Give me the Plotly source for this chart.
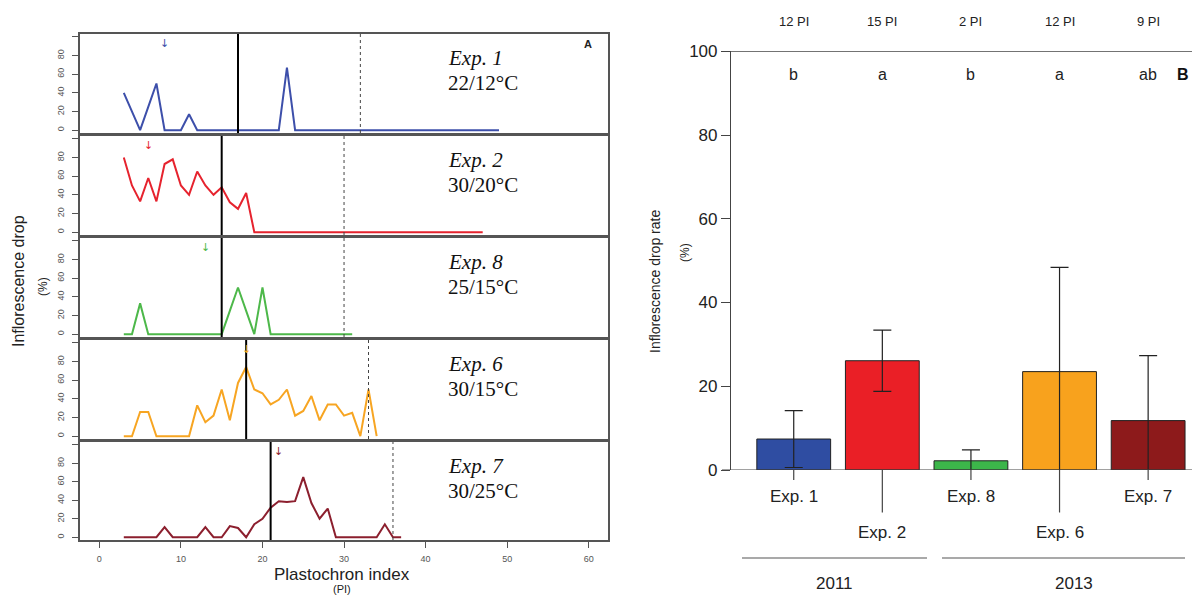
import plotly.graph_objects as go

W, H = 1192, 595

# ---------------- Panel A: inflorescence drop along the plastochron index ----------------
exp_names = ["Exp. 1", "Exp. 2", "Exp. 8", "Exp. 6", "Exp. 7"]
exp_temps = ["22/12°C", "30/20°C", "25/15°C", "30/15°C", "30/25°C"]
line_colors = ["#3D4FAA", "#E6232E", "#4DB84A", "#F7A522", "#8C1F2E"]

# first plastochron index of each series
pi_start = [3, 3, 3, 3, 3]

drop_exp1 = [40, 20, 0, 25, 50, 0, 0, 0, 17, 0,
             0, 0, 0, 0, 0, 0, 0, 0, 0, 0,
             67, 0, 0, 0, 0, 0, 0, 0, 0, 0,
             0, 0, 0, 0, 0, 0, 0, 0, 0, 0,
             0, 0, 0, 0, 0, 0, 0]
drop_exp2 = [80, 50, 33, 58, 33, 73, 78, 50, 40, 65,
             50, 40, 48, 32, 25, 42, 0, 0, 0, 0,
             0, 0, 0, 0, 0, 0, 0, 0, 0, 0,
             0, 0, 0, 0, 0, 0, 0, 0, 0, 0,
             0, 0, 0, 0, 0]
drop_exp8 = [0, 0, 33, 0, 0, 0, 0, 0, 0, 0,
             0, 0, 0, 25, 50, 25, 0, 50, 0, 0,
             0, 0, 0, 0, 0, 0, 0, 0, 0]
drop_exp6 = [0, 0, 26, 26, 0, 0, 0, 0, 0, 33,
             15, 22, 50, 17, 57, 74, 50, 46, 34, 39,
             50, 22, 27, 43, 17, 34, 34, 22, 25, 0,
             50, 0]
drop_exp7 = [0, 0, 0, 0, 0, 11, 0, 0, 0, 0,
             11, 0, 0, 12, 10, 0, 14, 20, 32, 39,
             38, 39, 65, 37, 20, 31, 0, 0, 0, 0,
             0, 0, 14, 0, 0]
drop_series = [drop_exp1, drop_exp2, drop_exp8, drop_exp6, drop_exp7]

solid_pi = [17, 15, 15, 18, 21]      # solid reference line
dotted_pi = [32, 30, 30, 33, 36]     # dotted reference line
arrow_pi = [8, 6, 13, 18, 22]        # arrow marker

x_ticks_a = [0, 10, 20, 30, 40, 50, 60]
y_ticks_a = [0, 20, 40, 60, 80, 100]
y_ticktext_a = ["0", "20", "40", "60", "80", ""]

# ---------------- Panel B: mean inflorescence drop rate ----------------
rate_mean = [7.4, 26.1, 2.2, 23.5, 11.8]
rate_sd = [6.8, 7.3, 2.6, 24.9, 15.5]
bar_colors = ["#2F4DA2", "#EA1F26", "#3CB64A", "#F8A21D", "#8D1A1B"]
pi_labels = ["12 PI", "15 PI", "2 PI", "12 PI", "9 PI"]
sig_letters = ["b", "a", "b", "a", "ab"]
label_row = [0, 1, 0, 1, 0]
years = ["2011", "2013"]
y_ticks_b = [0, 20, 40, 60, 80, 100]

# panel pixel boxes (top, bottom) for the five stacked plots
panel_tops = [34, 136, 238, 340, 442]
panel_bots = [133, 235, 337, 439, 540]
left_x0, left_x1 = 80, 608

fig = go.Figure()
layout = dict(
    template="none",
    width=W, height=H, autosize=False,
    margin=dict(l=0, r=0, t=0, b=0, pad=0),
    paper_bgcolor="white", plot_bgcolor="white",
    showlegend=False,
    font=dict(family="Liberation Sans, Arial, sans-serif", color="#222"),
)
shapes = []
annotations = []


def label(x, y, text, size, xref="paper", yref="paper", angle=0,
          family=None, color="#222", xanchor="center"):
    font = dict(size=size, color=color)
    if family:
        font["family"] = family
    annotations.append(dict(xref=xref, yref=yref, x=x, y=y, text=text,
                            textangle=angle, showarrow=False,
                            xanchor=xanchor, yanchor="middle", font=font))


frame_col = "#555555"
serif = "Liberation Serif, Times New Roman, serif"


def ax_id(letter, k):
    return letter if k == 1 else f"{letter}{k}"


for i in range(5):
    k = i + 1
    xa, ya = ax_id("x", k), ax_id("y", k)
    xkey = "xaxis" if k == 1 else f"xaxis{k}"
    ykey = "yaxis" if k == 1 else f"yaxis{k}"
    xs = list(range(pi_start[i], pi_start[i] + len(drop_series[i])))
    fig.add_trace(go.Scatter(
        x=xs, y=drop_series[i], mode="lines",
        line=dict(color=line_colors[i], width=2),
        xaxis=xa, yaxis=ya, hoverinfo="skip",
    ))
    is_bottom = (k == 5)
    layout[xkey] = dict(
        domain=[left_x0 / W, left_x1 / W], range=[-2.37, 62.36],
        anchor=ya, automargin=False,
        showline=True, mirror=True, linecolor=frame_col, linewidth=1.5,
        showgrid=False, zeroline=False,
        tickvals=x_ticks_a if is_bottom else [],
        ticks="outside" if is_bottom else "", ticklen=6, tickcolor=frame_col,
        showticklabels=is_bottom, ticklabelstandoff=3,
        tickfont=dict(size=9, color="#555"),
    )
    layout[ykey] = dict(
        domain=[1 - panel_bots[i] / H, 1 - panel_tops[i] / H], range=[-3, 103],
        anchor=xa, automargin=False,
        showline=True, mirror=True, linecolor=frame_col, linewidth=1.5,
        showgrid=False, zeroline=False,
        tickvals=y_ticks_a, ticktext=y_ticktext_a, tickangle=-90,
        ticks="outside", ticklen=6, tickcolor=frame_col, ticklabelstandoff=5,
        tickfont=dict(size=9, color="#555"),
    )
    # reference lines
    shapes.append(dict(type="line", xref=xa, yref=f"{ya} domain",
                       x0=solid_pi[i], x1=solid_pi[i], y0=0, y1=1,
                       line=dict(color="black", width=2)))
    shapes.append(dict(type="line", xref=xa, yref=f"{ya} domain",
                       x0=dotted_pi[i], x1=dotted_pi[i], y0=0, y1=1,
                       line=dict(color="#444", width=1, dash="dot")))
    # arrow marker
    label(arrow_pi[i], 93, "↓", 11, xref=xa, yref=ya,
          family="DejaVu Sans", color=line_colors[i])
    # experiment name and temperature regime
    label(446 / W, 1 - (panel_tops[i] + 24) / H, f"<i>{exp_names[i]}</i>", 21,
          family=serif, color="#111", xanchor="left")
    label(446 / W, 1 - (panel_tops[i] + 49) / H, exp_temps[i], 21,
          family=serif, color="#111", xanchor="left")

label(588 / W, 1 - 44 / H, "<b>A</b>", 11)
label(342 / W, 1 - 574 / H, "Plastochron index", 17)
label(342 / W, 1 - 588.5 / H, "(PI)", 11)
label(18 / W, 1 - 281 / H, "Inflorescence drop", 16, angle=-90)
label(43 / W, 1 - 287 / H, "(%)", 12, angle=-90)

# ---------------- Panel B ----------------
fig.add_trace(go.Bar(
    x=exp_names, y=rate_mean,
    marker=dict(color=bar_colors, line=dict(color="#222", width=1)),
    error_y=dict(type="data", array=rate_sd, visible=True,
                 color="#222", thickness=1.2, width=9),
    xaxis="x6", yaxis="y6", hoverinfo="skip",
))

b_x0 = 731
layout["xaxis6"] = dict(
    domain=[b_x0 / W, 1], type="category", range=[-0.708, 4.495],
    anchor="y6", automargin=False, showline=False, showgrid=False, zeroline=False,
    ticks="", showticklabels=False,
)
layout["yaxis6"] = dict(
    domain=[1 - 470 / H, 1 - 51.3 / H], range=[0, 100], anchor="x6", automargin=False,
    showline=True, linecolor="#444", linewidth=1.2, showgrid=False, zeroline=False,
    tickvals=y_ticks_b, ticks="outside", ticklen=9, tickcolor="#444",
    tickfont=dict(size=17, color="#222"),
)
layout["bargap"] = 0.167

# horizontal lines at 0 and 100
for yv in (0, 100):
    shapes.append(dict(type="line", xref="paper", yref="y6",
                       x0=722 / W, x1=1, y0=yv, y1=yv,
                       line=dict(color="#444", width=1.2)))

for i, name in enumerate(exp_names):
    tick_end = 480 if label_row[i] == 0 else 512.5
    shapes.append(dict(type="line", xref="x6", yref="paper",
                       x0=name, x1=name, y0=1 - 470 / H, y1=1 - tick_end / H,
                       line=dict(color="#444", width=1.2)))
    label(name, 1 - (496.5 if label_row[i] == 0 else 532.5) / H, name, 17, xref="x6")
    label(name, 1 - 22 / H, pi_labels[i], 13, xref="x6")
    label(name, 1 - 74 / H, sig_letters[i], 16, xref="x6")

label(1183 / W, 1 - 74 / H, "<b>B</b>", 16, color="#111")

# year grouping lines
year_spans = [(742, 927, 834), (942, 1185, 1074)]
for (x0, x1, xc), yr in zip(year_spans, years):
    shapes.append(dict(type="line", xref="paper", yref="paper",
                       x0=x0 / W, x1=x1 / W, y0=1 - 558 / H, y1=1 - 558 / H,
                       line=dict(color="#555", width=1.2)))
    label(xc / W, 1 - 583.5 / H, yr, 17)

label(655 / W, 1 - 282 / H, "Inflorescence drop rate", 14, angle=-90)
label(685 / W, 1 - 253 / H, "(%)", 12, angle=-90)

layout["shapes"] = shapes
layout["annotations"] = annotations
fig.update_layout(**layout)

fig.write_html("out.html")
